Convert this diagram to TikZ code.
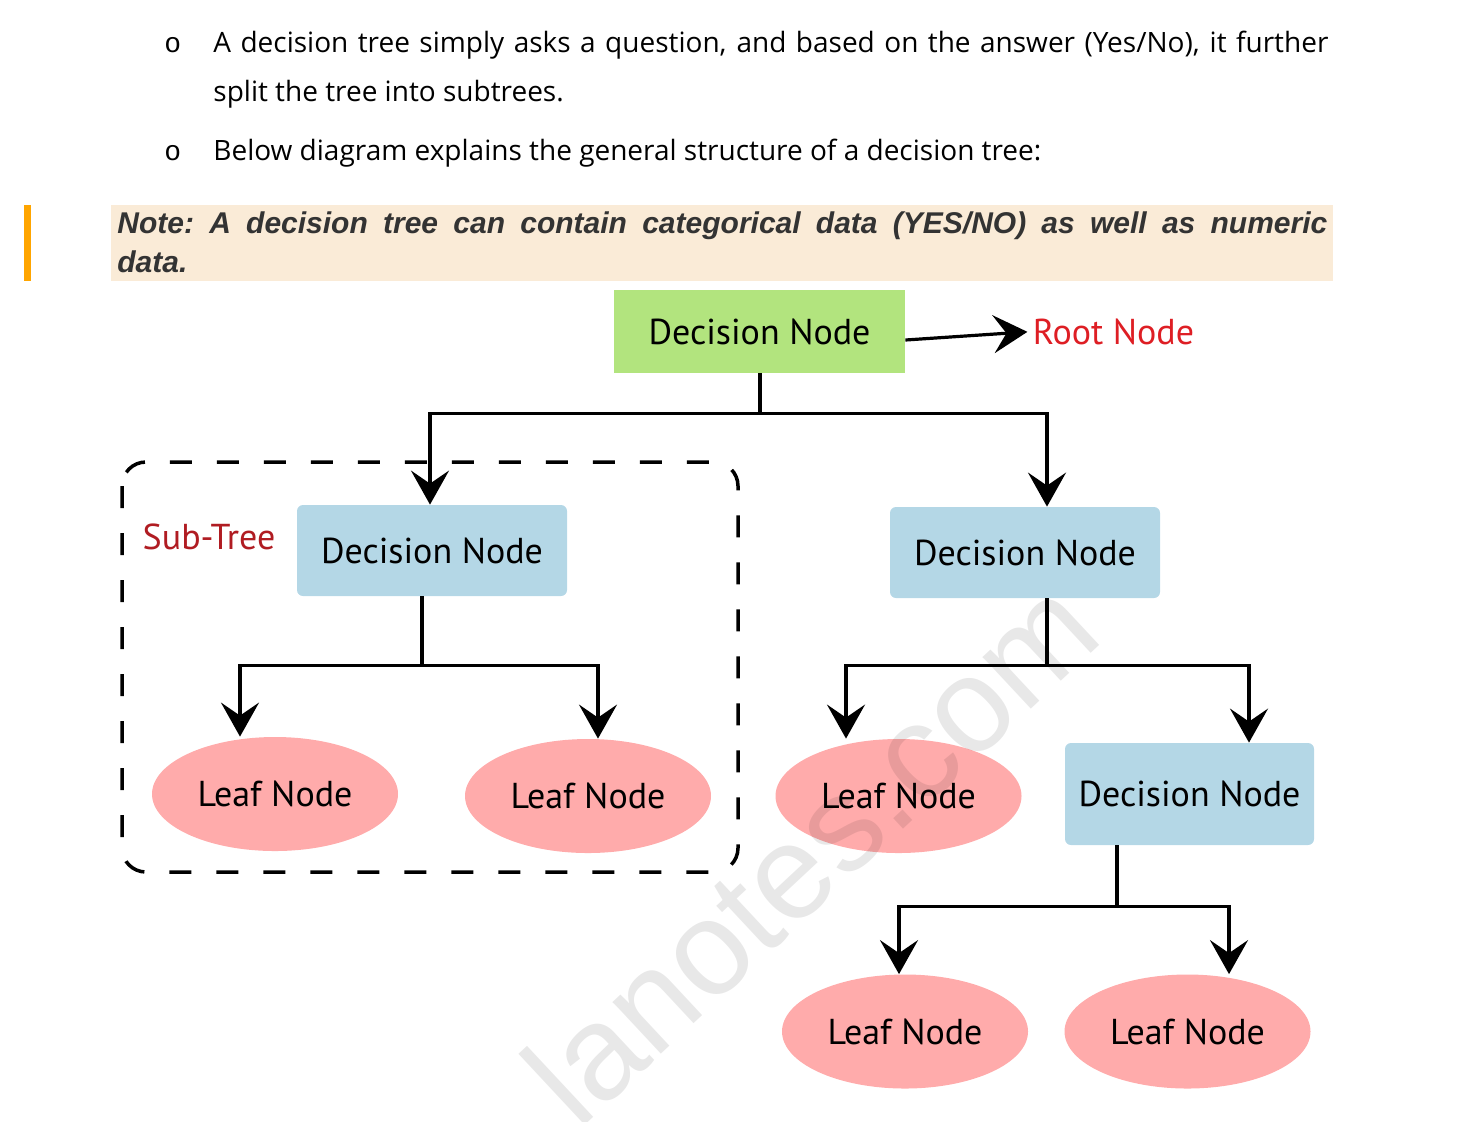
\documentclass[tikz,border=0pt]{standalone}
\usepackage{fontspec}
\setmainfont{Open Sans}
\newfontfamily\notefont{Liberation Sans}
\newfontfamily\diagfont{PT Sans}
\newfontfamily\markfont{Liberation Mono}
\usepackage{tikz}
\usetikzlibrary{arrows.meta}
\usetikzlibrary{shapes.geometric}
\usetikzlibrary{positioning}
\definecolor{notebg}{RGB}{250,235,215}
\definecolor{notebar}{RGB}{255,165,0}
\definecolor{notetext}{RGB}{51,51,51}
\definecolor{rootgreen}{RGB}{178,228,126}
\definecolor{decblue}{RGB}{180,215,230}
\definecolor{leafpink}{RGB}{255,171,171}
\definecolor{rootred}{RGB}{222,30,36}
\definecolor{subred}{RGB}{176,28,34}

\begin{document}
\begin{tikzpicture}[x=0.5pt,y=-0.5pt,node distance=20mm,
    >={Stealth[length=17pt,width=19pt,inset=6.5pt]},
    bodytext/.style={anchor=base west,inner sep=0,text width=557.5pt,align=justify,font=\fontsize{14}{24.5}\selectfont},
    bulletmark/.style={anchor=base west,inner sep=0,font=\markfont\fontsize{14}{14}\selectfont},
    notetext/.style={anchor=base west,inner sep=0,text width=605pt,align=justify,text=notetext,font=\notefont\bfseries\itshape\fontsize{15}{19.5}\selectfont\frenchspacing},
    root/.style={rectangle,fill=rootgreen,minimum width=145.5pt,minimum height=41.5pt,font=\diagfont\fontsize{18}{20}\selectfont},
    decision/.style={rectangle,rounded corners=3pt,fill=decblue,minimum width=135pt,minimum height=45.5pt,font=\diagfont\fontsize{18}{20}\selectfont},
    leaf/.style={ellipse,fill=leafpink,inner sep=0,minimum width=123pt,minimum height=57pt,font=\diagfont\fontsize{18}{20}\selectfont},
    tag/.style={inner sep=0,font=\diagfont\fontsize{18}{20}\selectfont},
    branch/.style={to path={-- ++(0,#1) -| (\tikztotarget)}},
    subtree/.style={dash pattern=on 11pt off 12.5pt,line width=1.75pt,rounded corners=12pt},
    watermark/.style={inner sep=0,text=black,text opacity=0.09,font=\notefont\fontsize{67}{67}\selectfont}]
    \useasboundingbox (0,0) rectangle (1460,1121);
    \node [bulletmark] (o1) at (164,52) {o};
    \node [bodytext] (b1) at (213,52) {A decision tree simply asks a question, and based on the answer (Yes/No), it further\linebreak split the tree into subtrees.};
    \node [bulletmark] (o2) at (164,160) {o};
    \node [bodytext] (b2) at (213,160) {Below diagram explains the general structure of a decision tree:};
    \fill [notebar] (24,205) rectangle (31,281);
    \fill [notebg] (111,205) rectangle (1333,281);
    \node [notetext] (note) at (117,233) {Note: A decision tree can contain categorical data (YES/NO) as well as numeric\linebreak data.};
    \draw [subtree] (122,462) rectangle (738,872);
    \node [root] (0) at (759.5,331.5) {Decision Node};
    \node [tag,text=rootred,right=63.5pt of 0] (r) {Root Node};
    \node [tag,text=subred] (s) at (209,537) {Sub-Tree};
    \node [decision] (1) at (432,550.5) {Decision Node};
    \node [decision] (2) at (1025,552.5) {Decision Node};
    \node [leaf] (3) at (275,794) {Leaf Node};
    \node [leaf] (4) at (588,796) {Leaf Node};
    \node [leaf] (5) at (898.5,796) {Leaf Node};
    \node [decision,minimum width=124.5pt,minimum height=51pt] (6) at (1189.5,794) {Decision Node};
    \node [leaf] (7) at (905,1031.5) {Leaf Node};
    \node [leaf] (8) at (1187.5,1031.5) {Leaf Node};
    \path[->,line width=1.6pt]
        ([yshift=-4.25pt]0.east) edge [shorten >=2.5pt] (r.west)
        ([xshift=0.25pt]0.south) edge [branch=40] ([xshift=-1pt]1.north)
        ([xshift=0.25pt]0.south) edge [branch=40] ([xshift=11pt]2.north)
        ([xshift=-5pt]1.south) edge [branch=69] ([xshift=-17.5pt]3.north)
        ([xshift=-5pt]1.south) edge [branch=69] ([xshift=5pt]4.north)
        ([xshift=11pt]2.south) edge [branch=67] ([xshift=-26.25pt]5.north)
        ([xshift=11pt]2.south) edge [branch=67] ([xshift=29.75pt]6.north)
        ([xshift=-36.25pt]6.south) edge [branch=61] ([xshift=-3pt]7.north)
        ([xshift=-36.25pt]6.south) edge [branch=61] ([xshift=20.75pt]8.north);
    \begin{scope}
        \clip (0,0) rectangle (1460,1121);
        \node [watermark,rotate=43,anchor=base west] (wm) at (578,1132) {lanotes.com};
    \end{scope}
\end{tikzpicture}
\end{document}
